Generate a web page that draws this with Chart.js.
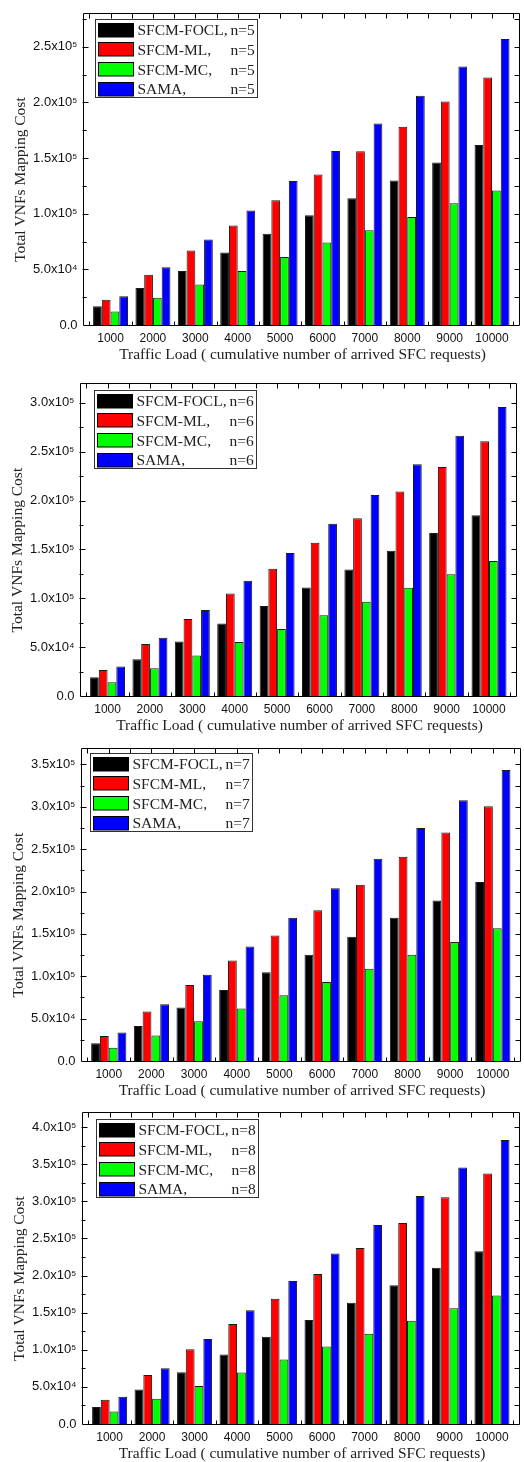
<!DOCTYPE html>
<html><head><meta charset="utf-8">
<script src="https://cdn.jsdelivr.net/npm/chart.js@4.4.1/dist/chart.umd.min.js"></script>
<style>
html,body{margin:0;padding:0;background:#fff;}
body{width:524px;height:1462px;position:relative;overflow:hidden;}
canvas{position:absolute;left:0;}
</style></head><body>
<canvas id="c0" width="524" height="368" style="top:0px"></canvas>
<canvas id="c1" width="524" height="365" style="top:370px"></canvas>
<canvas id="c2" width="524" height="364" style="top:735px"></canvas>
<canvas id="c3" width="524" height="363" style="top:1099px"></canvas>
<script>
// ---- data ----
const categories = [1000, 2000, 3000, 4000, 5000, 6000, 7000, 8000, 9000, 10000];
const seriesNames = ['SFCM-FOCL', 'SFCM-ML', 'SFCM-MC', 'SAMA'];
const seriesColors = ['#000000', '#ff0000', '#00ff00', '#0000ff'];
const nValues = [5, 6, 7, 8];
const xTitle = 'Traffic Load ( cumulative number of arrived SFC requests)';
const yTitle = 'Total VNFs Mapping Cost';

const focl_n5 = [16800, 33300, 48600, 65200, 82000, 98500, 113800, 129700, 146000, 161600];
const ml_n5   = [22700, 45100, 66900, 89300, 112000, 135300, 156000, 178000, 200800, 222300];
const mc_n5   = [12100, 24500, 36300, 48600, 61000, 74000, 85200, 97000, 109400, 120900];
const sama_n5 = [25900, 51900, 76900, 102900, 129400, 156300, 181000, 206000, 232300, 257000];

const focl_n6 = [19200, 37700, 55800, 74300, 92200, 111000, 129500, 148700, 166800, 185000];
const ml_n6   = [26600, 53100, 78700, 105000, 130200, 156700, 182000, 209200, 234400, 260700];
const mc_n6   = [14100, 28300, 41400, 55200, 68600, 82700, 96500, 110700, 124500, 138200];
const sama_n6 = [30300, 59500, 88100, 118000, 146300, 176200, 205800, 237100, 266400, 295700];

const focl_n7 = [20900, 41400, 63000, 83900, 104800, 125300, 146600, 169000, 189500, 211100];
const ml_n7   = [29400, 58400, 89700, 118700, 148100, 177900, 208000, 240900, 269500, 300500];
const mc_n7   = [15500, 30200, 46800, 61900, 77700, 93200, 109000, 125300, 140400, 156600];
const sama_n7 = [33600, 66900, 101700, 135000, 169000, 203800, 238600, 275000, 307800, 343400];

const focl_n8 = [23000, 46400, 69800, 93700, 117600, 140100, 163500, 187000, 210400, 232900];
const ml_n8   = [32700, 65900, 100800, 134800, 168800, 202000, 237300, 270900, 305400, 337700];
const mc_n8   = [16800, 34000, 51300, 69400, 87000, 104300, 121500, 139200, 156000, 173300];
const sama_n8 = [36700, 75100, 114500, 153400, 192700, 229800, 268300, 307200, 345600, 382800];

const yMaxes = [280000, 320000, 369000, 420000];
const yTicks_n5 = [0, 50000, 100000, 150000, 200000, 250000];
const yTicks_n6 = [0, 50000, 100000, 150000, 200000, 250000, 300000];
const yTicks_n7 = [0, 50000, 100000, 150000, 200000, 250000, 300000, 350000];
const yTicks_n8 = [0, 50000, 100000, 150000, 200000, 250000, 300000, 350000, 400000];
const yStep = 50000;
const yMinorStep = 25000;

// ---- layout (positions only) ----
const layouts = [
  {canvasTop: 0,    canvasH: 368, frameL: 83, frameR: 520, frameTop: 8,    frameBottom: 325,  legX: 95,   legY: 19},
  {canvasTop: 370,  canvasH: 365, frameL: 80, frameR: 517, frameTop: 378,  frameBottom: 696,  legX: 93.5, legY: 389.5},
  {canvasTop: 735,  canvasH: 364, frameL: 81, frameR: 521, frameTop: 743,  frameBottom: 1061, legX: 90,   legY: 752.5},
  {canvasTop: 1099, canvasH: 363, frameL: 82, frameR: 520, frameTop: 1107, frameBottom: 1424, legX: 95.5, legY: 1118.5}
];
const panelSeries = [
  [focl_n5, ml_n5, mc_n5, sama_n5],
  [focl_n6, ml_n6, mc_n6, sama_n6],
  [focl_n7, ml_n7, mc_n7, sama_n7],
  [focl_n8, ml_n8, mc_n8, sama_n8]
];
const panelYTicks = [yTicks_n5, yTicks_n6, yTicks_n7, yTicks_n8];

const SUP = {'0':'\u2070','1':'\u00B9','2':'\u00B2','3':'\u00B3','4':'\u2074','5':'\u2075','6':'\u2076','7':'\u2077','8':'\u2078','9':'\u2079'};
function fmtY(v) {
  if (v === 0) return '0.0';
  const e = String(Math.round(v)).length - 1;
  const m = v / Math.pow(10, e);
  return m.toFixed(1) + 'x10' + String(e).split('').map(c => SUP[c]).join('');
}

const SERIF = '"Liberation Serif", "Times New Roman", serif';
const SANS = '"Liberation Sans", Arial, sans-serif';

const decor = {
  id: 'decor',
  afterDraw(chart, args, o) {
    const ctx = chart.ctx, a = chart.chartArea, xs = chart.scales.x, ys = chart.scales.y;
    const L = Math.round(a.left) + 0.5, R = Math.round(a.right) - 0.5;
    const T = Math.round(a.top) + 0.5, B = Math.round(a.bottom) + 0.5;
    ctx.save();
    ctx.strokeStyle = '#000';
    ctx.lineWidth = 1;
    ctx.beginPath();
    ctx.rect(L, T, R - L, B - T);
    // y ticks
    for (let v = yMinorStep; v <= ys.max; v += yMinorStep) {
      const y = Math.round(ys.getPixelForValue(v)) + 0.5;
      const major = (v % yStep) === 0;
      ctx.moveTo(L - 1, y); ctx.lineTo(L + (major ? 5 : 3), y);
      ctx.moveTo(R, y); ctx.lineTo(R - 5, y);
    }
    // x ticks
    for (let v = 500; v <= xs.max; v += 500) {
      const x = Math.round(xs.getPixelForValue(v)) + 0.5;
      ctx.moveTo(x, T); ctx.lineTo(x, T + 5);
      if (v % 1000 === 500) { ctx.moveTo(x, B); ctx.lineTo(x, B - 4); }
    }
    ctx.stroke();

    // axis titles
    ctx.fillStyle = '#222';
    ctx.font = '15.5px ' + SERIF;
    ctx.textAlign = 'center';
    ctx.textBaseline = 'alphabetic';
    ctx.fillText(xTitle, (a.left + a.right) / 2 + 1, a.bottom + 34);
    ctx.save();
    ctx.translate(a.left - 58.5, (a.top + a.bottom) / 2 + 10.5);
    ctx.rotate(-Math.PI / 2);
    ctx.fillText(yTitle, 0, 0);
    ctx.restore();

    // legend
    const lx = Math.round(o.legX) + 0.5, ly = Math.round(o.legY) + 0.5;
    const lw = 162, lh = 78;
    ctx.fillStyle = '#fff';
    ctx.fillRect(lx, ly, lw, lh);
    ctx.strokeStyle = '#333';
    ctx.strokeRect(lx, ly, lw, lh);
    chart.data.datasets.forEach((ds, i) => {
      const cy = ly + 10 + i * 19.7;
      const sy = Math.round(cy - 6.75) + 0.5;
      ctx.fillStyle = ds.backgroundColor;
      ctx.fillRect(lx + 3, sy, 35, 13.5);
      ctx.strokeStyle = '#000';
      ctx.strokeRect(lx + 3, sy, 35, 13.5);
      const parts = ds.label.split(' ');
      const nTxt = parts.pop();
      ctx.fillStyle = '#222';
      ctx.font = '15.5px ' + SERIF;
      ctx.textAlign = 'left';
      ctx.fillText(parts.join(' '), lx + 42, cy + 5.6);
      ctx.textAlign = 'right';
      ctx.fillText(nTxt, lx + lw - 2.8, cy + 5.6);
    });
    ctx.restore();
  }
};

layouts.forEach((p, k) => {
  const canvas = document.getElementById('c' + k);
  const series = panelSeries[k];
  const yTickVals = panelYTicks[k];
  new Chart(canvas, {
    type: 'bar',
    data: {
      labels: categories,
      datasets: seriesNames.map((name, i) => ({
        label: name + ', n=' + nValues[k],
        data: series[i],
        backgroundColor: seriesColors[i],
        borderColor: '#1a1a1a',
        borderWidth: 1,
        categoryPercentage: 0.825,
        barPercentage: 1.0
      }))
    },
    options: {
      responsive: false,
      animation: false,
      devicePixelRatio: 1,
      layout: {padding: {left: 0, right: 524 - p.frameR, top: p.frameTop - p.canvasTop, bottom: 0}},
      plugins: {
        legend: {display: false},
        tooltip: {enabled: false},
        decor: {legX: p.legX, legY: p.legY - p.canvasTop}
      },
      scales: {
        x: {
          type: 'linear', min: 350, max: 10660, offset: false,
          grid: {display: false, drawTicks: false, offset: false},
          border: {display: false},
          afterBuildTicks: s => { s.ticks = categories.map(v => ({value: v})); },
          ticks: {padding: 6.5, autoSkip: false, maxRotation: 0, color: '#111',
                  font: {family: SANS, size: 12}, callback: v => String(v)},
          afterFit: s => { s.height = p.canvasH - (p.frameBottom - p.canvasTop); }
        },
        y: {
          type: 'linear', min: 0, max: yMaxes[k],
          grid: {display: false, drawTicks: false},
          border: {display: false},
          afterBuildTicks: s => { s.ticks = yTickVals.map(v => ({value: v})); },
          ticks: {padding: 5.5, autoSkip: false, color: '#111',
                  font: {family: SANS, size: 13}, callback: v => fmtY(v)},
          afterFit: s => { s.width = p.frameL; }
        }
      }
    },
    plugins: [decor]
  });
});
</script>
</body></html>
